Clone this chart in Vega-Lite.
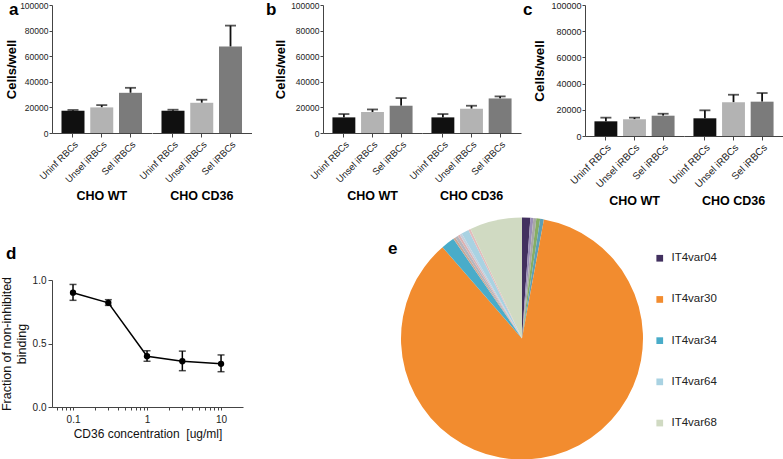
{
  "$schema": "https://vega.github.io/schema/vega-lite/v6.json",
  "padding": {"left": 0, "top": 1, "right": 0, "bottom": 0},
  "background": "white",
  "config": {
    "font": "Liberation Sans",
    "view": {"stroke": null},
    "axis": {"labelFont": "Liberation Sans", "titleFont": "Liberation Sans", "labelColor": "#222", "titleColor": "#111", "domainColor": "#444", "tickColor": "#444", "grid": false},
    "title": {"font": "Liberation Sans", "color": "#000"},
    "header": {"labelFont": "Liberation Sans"},
    "legend": {"labelFont": "Liberation Sans"}
  },
  "datasets": {
    "bars": [
      {"panel": "a", "group": "CHO WT", "cond": "Uninf RBCs", "value": 17400, "hi": 18000},
      {"panel": "a", "group": "CHO WT", "cond": "Unsel iRBCs", "value": 20000, "hi": 21800},
      {"panel": "a", "group": "CHO WT", "cond": "Sel iRBCs", "value": 31400, "hi": 35300},
      {"panel": "a", "group": "CHO CD36", "cond": "Uninf RBCs", "value": 17400, "hi": 18200},
      {"panel": "a", "group": "CHO CD36", "cond": "Unsel iRBCs", "value": 23600, "hi": 26000},
      {"panel": "a", "group": "CHO CD36", "cond": "Sel iRBCs", "value": 67500, "hi": 83900},
      {"panel": "b", "group": "CHO WT", "cond": "Uninf RBCs", "value": 12200, "hi": 14800},
      {"panel": "b", "group": "CHO WT", "cond": "Unsel iRBCs", "value": 16400, "hi": 18400},
      {"panel": "b", "group": "CHO WT", "cond": "Sel iRBCs", "value": 21300, "hi": 27300},
      {"panel": "b", "group": "CHO CD36", "cond": "Uninf RBCs", "value": 12200, "hi": 14800},
      {"panel": "b", "group": "CHO CD36", "cond": "Unsel iRBCs", "value": 19000, "hi": 21300},
      {"panel": "b", "group": "CHO CD36", "cond": "Sel iRBCs", "value": 27000, "hi": 28600},
      {"panel": "c", "group": "CHO WT", "cond": "Uninf RBCs", "value": 11200, "hi": 14000},
      {"panel": "c", "group": "CHO WT", "cond": "Unsel iRBCs", "value": 12700, "hi": 14000},
      {"panel": "c", "group": "CHO WT", "cond": "Sel iRBCs", "value": 15500, "hi": 17000},
      {"panel": "c", "group": "CHO CD36", "cond": "Uninf RBCs", "value": 13500, "hi": 19600},
      {"panel": "c", "group": "CHO CD36", "cond": "Unsel iRBCs", "value": 25700, "hi": 31500},
      {"panel": "c", "group": "CHO CD36", "cond": "Sel iRBCs", "value": 26200, "hi": 32800}
    ],
    "dose": [
      {"conc": 0.1, "mean": 0.90, "lo": 0.84, "hi": 0.965},
      {"conc": 0.3, "mean": 0.82, "lo": 0.80, "hi": 0.845},
      {"conc": 1, "mean": 0.40, "lo": 0.36, "hi": 0.443},
      {"conc": 3, "mean": 0.36, "lo": 0.286, "hi": 0.44},
      {"conc": 10, "mean": 0.34, "lo": 0.278, "hi": 0.41}
    ],
    "pie": [
      {"k": 1, "name": "IT4var04", "pct": 1.1},
      {"k": 2, "name": "other1", "pct": 0.4},
      {"k": 3, "name": "other2", "pct": 0.4},
      {"k": 4, "name": "other3", "pct": 0.5},
      {"k": 5, "name": "other4", "pct": 0.5},
      {"k": 6, "name": "IT4var30", "pct": 85.7},
      {"k": 7, "name": "IT4var34", "pct": 1.8},
      {"k": 8, "name": "other5", "pct": 0.3},
      {"k": 9, "name": "other6", "pct": 0.4},
      {"k": 10, "name": "other7", "pct": 0.3},
      {"k": 11, "name": "other8", "pct": 0.3},
      {"k": 12, "name": "IT4var64", "pct": 1.0},
      {"k": 13, "name": "other9", "pct": 0.3},
      {"k": 14, "name": "IT4var68", "pct": 7.0}
    ]
  },
  "resolve": {"scale": {"color": "independent"}},
  "spacing": 14,
  "hconcat": [
    {
      "resolve": {"scale": {"color": "independent"}},
      "spacing": 42,
      "vconcat": [
        {
          "data": {"name": "bars"},
          "transform": [{"filter": "datum.panel === 'a'"}],
          "title": {"text": "a", "anchor": "start", "frame": "group", "fontSize": 17, "fontWeight": "bold", "baseline": "bottom", "offset": -35, "dx": -43},
          "facet": {"column": {"field": "group", "type": "nominal", "sort": ["CHO WT", "CHO CD36"], "title": null, "header": {"labelOrient": "bottom", "labelFontWeight": "bold", "labelFontSize": 12.5, "labelPadding": 6, "labelColor": "#000"}}},
          "spacing": 0,
          "spec": {
            "width": 99.5, "height": 128,
            "encoding": {
              "x": {"field": "cond", "type": "nominal", "sort": ["Uninf RBCs", "Unsel iRBCs", "Sel iRBCs"], "scale": {"paddingInner": 0.2, "paddingOuter": 0.33}, "axis": {"title": null, "labelAngle": -45, "labelFontSize": 9.5, "tickSize": 4, "labelPadding": 2}},
              "y": {"field": "value", "type": "quantitative", "scale": {"domain": [0, 100000], "nice": false}, "axis": {"title": "Cells/well", "titleFontSize": 13, "titleFontWeight": "bold", "titleColor": "#000", "titlePadding": 1, "values": [0, 20000, 40000, 60000, 80000, 100000], "format": "d", "labelFontSize": 8.5, "labelPadding": 1, "tickSize": 3}}
            },
            "layer": [
              {"mark": {"type": "rule", "color": "#111", "strokeWidth": 1.8}, "encoding": {"y2": {"field": "hi"}}},
              {"mark": {"type": "tick", "color": "#111", "thickness": 1.8, "size": 11}, "encoding": {"y": {"field": "hi", "type": "quantitative"}}},
              {"mark": {"type": "bar"}, "encoding": {"color": {"field": "cond", "type": "nominal", "scale": {"domain": ["Uninf RBCs", "Unsel iRBCs", "Sel iRBCs"], "range": ["#101010", "#b3b3b3", "#7b7b7b"]}, "legend": null}}}
            ]
          }
        },
        {
          "data": {"name": "dose"},
          "width": 191, "height": 127,
          "title": {"text": "d", "anchor": "start", "frame": "group", "fontSize": 17, "fontWeight": "bold", "baseline": "bottom", "offset": -5, "dx": -46},
          "encoding": {
            "x": {"field": "conc", "type": "quantitative", "scale": {"type": "log", "domain": [0.052, 19.8], "nice": false}, "axis": {"title": "CD36 concentration\u00a0 [ug/ml]", "titleFontSize": 12, "titleFontWeight": "normal", "titleColor": "#111", "titlePadding": 4, "values": [0.06, 0.07, 0.08, 0.09, 0.1, 0.2, 0.3, 0.4, 0.5, 0.6, 0.7, 0.8, 0.9, 1, 2, 3, 4, 5, 6, 7, 8, 9, 10], "format": "~g", "labelExpr": "(datum.value == 0.1 || datum.value == 1 || datum.value == 10) ? datum.label : ''", "labelFontSize": 10, "tickSize": 3, "labelPadding": 4}}
          },
          "layer": [
            {"mark": {"type": "rule", "color": "#000", "strokeWidth": 1.5}, "encoding": {"y": {"field": "lo", "type": "quantitative", "scale": {"domain": [0, 1], "nice": false}, "axis": {"title": ["Fraction of non-inhibited", "binding"], "titleFontSize": 12.5, "titleFontWeight": "normal", "titleColor": "#111", "titleLineHeight": 15, "titlePadding": 4, "values": [0, 0.5, 1], "format": ".1f", "labelFontSize": 10, "tickSize": 4}}, "y2": {"field": "hi"}}},
            {"mark": {"type": "tick", "orient": "horizontal", "color": "#000", "thickness": 1.5, "size": 7}, "encoding": {"y": {"field": "lo", "type": "quantitative"}}},
            {"mark": {"type": "tick", "orient": "horizontal", "color": "#000", "thickness": 1.5, "size": 7}, "encoding": {"y": {"field": "hi", "type": "quantitative"}}},
            {"mark": {"type": "line", "color": "#000", "strokeWidth": 1.5, "point": {"filled": true, "size": 40, "color": "#000"}}, "encoding": {"y": {"field": "mean", "type": "quantitative"}}}
          ]
        }
      ]
    },
    {
      "resolve": {"scale": {"color": "independent"}},
      "spacing": 9.5,
      "vconcat": [
        {
          "resolve": {"scale": {"color": "independent"}},
          "spacing": 2,
          "hconcat": [
            {
              "data": {"name": "bars"},
              "transform": [{"filter": "datum.panel === 'b'"}],
              "title": {"text": "b", "anchor": "start", "frame": "group", "fontSize": 17, "fontWeight": "bold", "baseline": "bottom", "offset": -35, "dx": -57},
              "facet": {"column": {"field": "group", "type": "nominal", "sort": ["CHO WT", "CHO CD36"], "title": null, "header": {"labelOrient": "bottom", "labelFontWeight": "bold", "labelFontSize": 12.5, "labelPadding": 6, "labelColor": "#000"}}},
              "spacing": 0,
              "spec": {
                "width": 99, "height": 128,
                "encoding": {
                  "x": {"field": "cond", "type": "nominal", "sort": ["Uninf RBCs", "Unsel iRBCs", "Sel iRBCs"], "scale": {"paddingInner": 0.2, "paddingOuter": 0.33}, "axis": {"title": null, "labelAngle": -45, "labelFontSize": 9.5, "tickSize": 4, "labelPadding": 2}},
                  "y": {"field": "value", "type": "quantitative", "scale": {"domain": [0, 100000], "nice": false}, "axis": {"title": "Cells/well", "titleFontSize": 13, "titleFontWeight": "bold", "titleColor": "#000", "titlePadding": 3, "values": [0, 20000, 40000, 60000, 80000, 100000], "format": "d", "labelFontSize": 8.5, "labelPadding": 1, "tickSize": 3}}
                },
                "layer": [
                  {"mark": {"type": "rule", "color": "#111", "strokeWidth": 1.8}, "encoding": {"y2": {"field": "hi"}}},
                  {"mark": {"type": "tick", "color": "#111", "thickness": 1.8, "size": 11}, "encoding": {"y": {"field": "hi", "type": "quantitative"}}},
                  {"mark": {"type": "bar"}, "encoding": {"color": {"field": "cond", "type": "nominal", "scale": {"domain": ["Uninf RBCs", "Unsel iRBCs", "Sel iRBCs"], "range": ["#101010", "#b3b3b3", "#7b7b7b"]}, "legend": null}}}
                ]
              }
            },
            {
              "data": {"name": "bars"},
              "transform": [{"filter": "datum.panel === 'c'"}],
              "title": {"text": "c", "anchor": "start", "frame": "group", "fontSize": 17, "fontWeight": "bold", "baseline": "bottom", "offset": -35, "dx": -62},
              "facet": {"column": {"field": "group", "type": "nominal", "sort": ["CHO WT", "CHO CD36"], "title": null, "header": {"labelOrient": "bottom", "labelFontWeight": "bold", "labelFontSize": 12.5, "labelPadding": 6, "labelColor": "#000"}}},
              "spacing": 0,
              "spec": {
                "width": 99, "height": 131,
                "encoding": {
                  "x": {"field": "cond", "type": "nominal", "sort": ["Uninf RBCs", "Unsel iRBCs", "Sel iRBCs"], "scale": {"paddingInner": 0.2, "paddingOuter": 0.33}, "axis": {"title": null, "labelAngle": -45, "labelFontSize": 10, "tickSize": 4, "labelPadding": 2}},
                  "y": {"field": "value", "type": "quantitative", "scale": {"domain": [0, 100000], "nice": false}, "axis": {"title": "Cells/well", "titleFontSize": 13.5, "titleFontWeight": "bold", "titleColor": "#000", "titlePadding": 4, "values": [0, 20000, 40000, 60000, 80000, 100000], "format": "d", "labelFontSize": 9, "labelPadding": 1, "tickSize": 3}}
                },
                "layer": [
                  {"mark": {"type": "rule", "color": "#111", "strokeWidth": 1.8}, "encoding": {"y2": {"field": "hi"}}},
                  {"mark": {"type": "tick", "color": "#111", "thickness": 1.8, "size": 11}, "encoding": {"y": {"field": "hi", "type": "quantitative"}}},
                  {"mark": {"type": "bar"}, "encoding": {"color": {"field": "cond", "type": "nominal", "scale": {"domain": ["Uninf RBCs", "Unsel iRBCs", "Sel iRBCs"], "range": ["#101010", "#b3b3b3", "#7b7b7b"]}, "legend": null}}}
                ]
              }
            }
          ]
        },
        {
          "data": {"name": "pie"},
          "width": 398, "height": 242,
          "title": {"text": "e", "anchor": "start", "frame": "group", "fontSize": 17, "fontWeight": "bold", "baseline": "bottom", "offset": -57, "dx": 65},
          "mark": {"type": "arc"},
          "encoding": {
            "theta": {"field": "pct", "type": "quantitative", "stack": true},
            "order": {"field": "k", "type": "quantitative"},
            "color": {"field": "name", "type": "nominal",
              "scale": {"domain": ["IT4var04", "other1", "other2", "other3", "other4", "IT4var30", "IT4var34", "other5", "other6", "other7", "other8", "IT4var64", "other9", "IT4var68"],
                        "range": ["#42305f", "#9b8fb8", "#a8a8a8", "#86ad63", "#5e9fb5", "#f28c2f", "#49acc9", "#caa795", "#b5b5bd", "#dcb2b2", "#c5cedb", "#a9d2e2", "#e2bcbc", "#d0dac2"]},
              "legend": {"values": ["IT4var04", "IT4var30", "IT4var34", "IT4var64", "IT4var68"], "title": null, "orient": "right", "symbolType": "square", "symbolSize": 45, "symbolStrokeWidth": 0, "labelFontSize": 11.5, "labelColor": "#222", "rowPadding": 28.2, "padding": 35, "offset": -102, "labelOffset": 6}}
          }
        }
      ]
    }
  ]
}
